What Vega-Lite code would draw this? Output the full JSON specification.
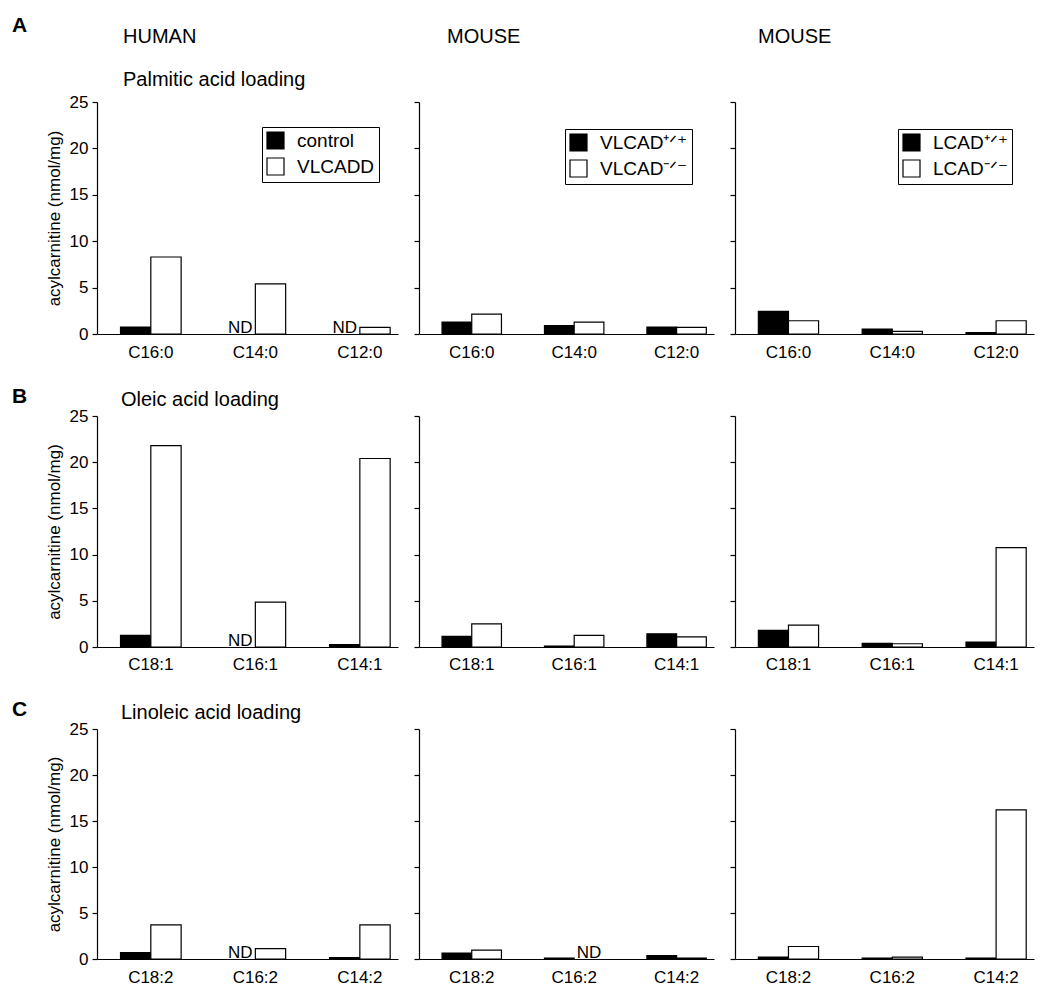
{
  "$schema": "https://vega.github.io/schema/vega-lite/v6.json",
  "padding": {"left": 12, "top": 15, "right": 5, "bottom": 5},
  "background": "white",
  "config": {
    "font": "Liberation Sans",
    "view": {"stroke": null},
    "axis": {"grid": false, "domainColor": "black", "tickColor": "black", "labelColor": "black", "titleColor": "black", "titleFontWeight": "normal", "domainWidth": 1.2, "tickWidth": 1.2},
    "title": {"font": "Liberation Sans", "fontWeight": "normal", "color": "black", "fontSize": 20, "anchor": "start", "subtitleFont": "Liberation Sans", "subtitleFontSize": 20, "subtitleColor": "black"},
    "legend": {"title": null, "orient": "none", "symbolType": "square", "symbolSize": 289, "symbolStrokeColor": "black", "symbolStrokeWidth": 1.2, "labelFontSize": 19, "labelColor": "black", "labelOffset": 12, "rowPadding": 3, "padding": 4, "strokeColor": "black", "fillColor": "white"},
    "text": {"font": "Liberation Sans", "color": "black"}
  },
  "datasets": {
    "d": [
      {"panel": "A0", "lipid": "C16:0", "geno": "control", "value": 0.75, "nd": false},
      {"panel": "A0", "lipid": "C16:0", "geno": "VLCADD", "value": 8.3, "nd": false},
      {"panel": "A0", "lipid": "C14:0", "geno": "control", "value": null, "nd": true},
      {"panel": "A0", "lipid": "C14:0", "geno": "VLCADD", "value": 5.4, "nd": false},
      {"panel": "A0", "lipid": "C12:0", "geno": "control", "value": null, "nd": true},
      {"panel": "A0", "lipid": "C12:0", "geno": "VLCADD", "value": 0.72, "nd": false},
      {"panel": "A1", "lipid": "C16:0", "geno": "VLCAD⁺ᐟ⁺", "value": 1.29, "nd": false},
      {"panel": "A1", "lipid": "C16:0", "geno": "VLCAD⁻ᐟ⁻", "value": 2.14, "nd": false},
      {"panel": "A1", "lipid": "C14:0", "geno": "VLCAD⁺ᐟ⁺", "value": 0.9, "nd": false},
      {"panel": "A1", "lipid": "C14:0", "geno": "VLCAD⁻ᐟ⁻", "value": 1.29, "nd": false},
      {"panel": "A1", "lipid": "C12:0", "geno": "VLCAD⁺ᐟ⁺", "value": 0.75, "nd": false},
      {"panel": "A1", "lipid": "C12:0", "geno": "VLCAD⁻ᐟ⁻", "value": 0.72, "nd": false},
      {"panel": "A2", "lipid": "C16:0", "geno": "LCAD⁺ᐟ⁺", "value": 2.43, "nd": false},
      {"panel": "A2", "lipid": "C16:0", "geno": "LCAD⁻ᐟ⁻", "value": 1.43, "nd": false},
      {"panel": "A2", "lipid": "C14:0", "geno": "LCAD⁺ᐟ⁺", "value": 0.54, "nd": false},
      {"panel": "A2", "lipid": "C14:0", "geno": "LCAD⁻ᐟ⁻", "value": 0.29, "nd": false},
      {"panel": "A2", "lipid": "C12:0", "geno": "LCAD⁺ᐟ⁺", "value": 0.14, "nd": false},
      {"panel": "A2", "lipid": "C12:0", "geno": "LCAD⁻ᐟ⁻", "value": 1.43, "nd": false},
      {"panel": "B0", "lipid": "C18:1", "geno": "control", "value": 1.26, "nd": false},
      {"panel": "B0", "lipid": "C18:1", "geno": "VLCADD", "value": 21.8, "nd": false},
      {"panel": "B0", "lipid": "C16:1", "geno": "control", "value": null, "nd": true},
      {"panel": "B0", "lipid": "C16:1", "geno": "VLCADD", "value": 4.86, "nd": false},
      {"panel": "B0", "lipid": "C14:1", "geno": "control", "value": 0.25, "nd": false},
      {"panel": "B0", "lipid": "C14:1", "geno": "VLCADD", "value": 20.4, "nd": false},
      {"panel": "B1", "lipid": "C18:1", "geno": "VLCAD⁺ᐟ⁺", "value": 1.15, "nd": false},
      {"panel": "B1", "lipid": "C18:1", "geno": "VLCAD⁻ᐟ⁻", "value": 2.5, "nd": false},
      {"panel": "B1", "lipid": "C16:1", "geno": "VLCAD⁺ᐟ⁺", "value": 0.1, "nd": false},
      {"panel": "B1", "lipid": "C16:1", "geno": "VLCAD⁻ᐟ⁻", "value": 1.25, "nd": false},
      {"panel": "B1", "lipid": "C14:1", "geno": "VLCAD⁺ᐟ⁺", "value": 1.43, "nd": false},
      {"panel": "B1", "lipid": "C14:1", "geno": "VLCAD⁻ᐟ⁻", "value": 1.1, "nd": false},
      {"panel": "B2", "lipid": "C18:1", "geno": "LCAD⁺ᐟ⁺", "value": 1.8, "nd": false},
      {"panel": "B2", "lipid": "C18:1", "geno": "LCAD⁻ᐟ⁻", "value": 2.37, "nd": false},
      {"panel": "B2", "lipid": "C16:1", "geno": "LCAD⁺ᐟ⁺", "value": 0.4, "nd": false},
      {"panel": "B2", "lipid": "C16:1", "geno": "LCAD⁻ᐟ⁻", "value": 0.35, "nd": false},
      {"panel": "B2", "lipid": "C14:1", "geno": "LCAD⁺ᐟ⁺", "value": 0.54, "nd": false},
      {"panel": "B2", "lipid": "C14:1", "geno": "LCAD⁻ᐟ⁻", "value": 10.75, "nd": false},
      {"panel": "C0", "lipid": "C18:2", "geno": "control", "value": 0.69, "nd": false},
      {"panel": "C0", "lipid": "C18:2", "geno": "VLCADD", "value": 3.7, "nd": false},
      {"panel": "C0", "lipid": "C16:2", "geno": "control", "value": null, "nd": true},
      {"panel": "C0", "lipid": "C16:2", "geno": "VLCADD", "value": 1.13, "nd": false},
      {"panel": "C0", "lipid": "C14:2", "geno": "control", "value": 0.15, "nd": false},
      {"panel": "C0", "lipid": "C14:2", "geno": "VLCADD", "value": 3.7, "nd": false},
      {"panel": "C1", "lipid": "C18:2", "geno": "VLCAD⁺ᐟ⁺", "value": 0.65, "nd": false},
      {"panel": "C1", "lipid": "C18:2", "geno": "VLCAD⁻ᐟ⁻", "value": 0.97, "nd": false},
      {"panel": "C1", "lipid": "C16:2", "geno": "VLCAD⁺ᐟ⁺", "value": 0.1, "nd": false},
      {"panel": "C1", "lipid": "C16:2", "geno": "VLCAD⁻ᐟ⁻", "value": null, "nd": true},
      {"panel": "C1", "lipid": "C14:2", "geno": "VLCAD⁺ᐟ⁺", "value": 0.36, "nd": false},
      {"panel": "C1", "lipid": "C14:2", "geno": "VLCAD⁻ᐟ⁻", "value": 0.1, "nd": false},
      {"panel": "C2", "lipid": "C18:2", "geno": "LCAD⁺ᐟ⁺", "value": 0.22, "nd": false},
      {"panel": "C2", "lipid": "C18:2", "geno": "LCAD⁻ᐟ⁻", "value": 1.36, "nd": false},
      {"panel": "C2", "lipid": "C16:2", "geno": "LCAD⁺ᐟ⁺", "value": 0.1, "nd": false},
      {"panel": "C2", "lipid": "C16:2", "geno": "LCAD⁻ᐟ⁻", "value": 0.2, "nd": false},
      {"panel": "C2", "lipid": "C14:2", "geno": "LCAD⁺ᐟ⁺", "value": 0.1, "nd": false},
      {"panel": "C2", "lipid": "C14:2", "geno": "LCAD⁻ᐟ⁻", "value": 16.2, "nd": false}
    ]
  },
  "spacing": 26,
  "resolve": {"scale": {"fill": "independent", "x": "independent", "y": "independent", "xOffset": "independent"}, "legend": {"fill": "independent"}},
  "vconcat": [
    {
      "title": {"text": "A", "anchor": "start", "frame": "bounds", "fontSize": 21, "fontWeight": "bold", "dx": -33, "dy": 9, "offset": 0},
      "spacing": 21,
      "bounds": "flush",
      "resolve": {"scale": {"fill": "independent", "x": "independent", "y": "independent", "xOffset": "independent"}, "legend": {"fill": "independent"}},
      "hconcat": [
        {
          "width": 301, "height": 232,
          "title": {"text": "HUMAN", "subtitle": "Palmitic acid loading", "frame": "group", "dx": 26, "offset": 3, "subtitlePadding": 23},
          "data": {"name": "d"},
          "transform": [{"filter": "datum.panel === 'A0'"}],
          "encoding": {
            "x": {"field": "lipid", "type": "nominal", "sort": null, "scale": {"paddingInner": 0.42, "paddingOuter": 0.15, "align": 0.75}, "axis": {"title": null, "ticks": false, "labelAngle": 0, "labelFontSize": 17, "labelPadding": 10}},
            "xOffset": {"field": "geno", "type": "nominal", "scale": {"domain": ["control", "VLCADD"]}}
          },
          "layer": [
            {"mark": {"type": "bar", "stroke": "black", "strokeWidth": 1.2},
             "encoding": {
               "y": {"field": "value", "type": "quantitative", "stack": null, "scale": {"domain": [0, 25], "nice": false, "padding": 0}, "axis": {"values": [0, 5, 10, 15, 20, 25], "tickSize": 5, "labelFontSize": 17, "labelPadding": 4, "title": "acylcarnitine (nmol/mg)", "titleFontSize": 17, "titlePadding": 6}},
               "fill": {"field": "geno", "type": "nominal", "scale": {"domain": ["control", "VLCADD"], "range": ["black", "white"]}, "legend": {"legendX": 165, "legendY": 25}}
             }},
            {"transform": [{"filter": "datum.nd"}], "mark": {"type": "text", "text": "ND", "fontSize": 17, "baseline": "alphabetic", "dy": -1},
             "encoding": {"y": {"datum": 0, "type": "quantitative"}}}
          ]
        },
        {
          "width": 295, "height": 232,
          "title": {"text": "MOUSE", "subtitle": " ", "frame": "group", "dx": 28, "offset": 11, "subtitlePadding": 23},
          "data": {"name": "d"},
          "transform": [{"filter": "datum.panel === 'A1'"}],
          "encoding": {
            "x": {"field": "lipid", "type": "nominal", "sort": null, "scale": {"paddingInner": 0.42, "paddingOuter": 0.15, "align": 0.75}, "axis": {"title": null, "ticks": false, "labelAngle": 0, "labelFontSize": 17, "labelPadding": 10}},
            "xOffset": {"field": "geno", "type": "nominal", "scale": {"domain": ["VLCAD⁺ᐟ⁺", "VLCAD⁻ᐟ⁻"]}}
          },
          "layer": [
            {"mark": {"type": "bar", "stroke": "black", "strokeWidth": 1.2},
             "encoding": {
               "y": {"field": "value", "type": "quantitative", "stack": null, "scale": {"domain": [0, 25], "nice": false, "padding": 0}, "axis": {"values": [0, 5, 10, 15, 20, 25], "tickSize": 5, "labels": false, "title": null}},
               "fill": {"field": "geno", "type": "nominal", "scale": {"domain": ["VLCAD⁺ᐟ⁺", "VLCAD⁻ᐟ⁻"], "range": ["black", "white"]}, "legend": {"legendX": 146, "legendY": 27}}
             }}
          ]
        },
        {
          "width": 299, "height": 232,
          "title": {"text": "MOUSE", "subtitle": " ", "frame": "group", "dx": 23, "offset": 11, "subtitlePadding": 23},
          "data": {"name": "d"},
          "transform": [{"filter": "datum.panel === 'A2'"}],
          "encoding": {
            "x": {"field": "lipid", "type": "nominal", "sort": null, "scale": {"paddingInner": 0.42, "paddingOuter": 0.15, "align": 0.75}, "axis": {"title": null, "ticks": false, "labelAngle": 0, "labelFontSize": 17, "labelPadding": 10}},
            "xOffset": {"field": "geno", "type": "nominal", "scale": {"domain": ["LCAD⁺ᐟ⁺", "LCAD⁻ᐟ⁻"]}}
          },
          "layer": [
            {"mark": {"type": "bar", "stroke": "black", "strokeWidth": 1.2},
             "encoding": {
               "y": {"field": "value", "type": "quantitative", "stack": null, "scale": {"domain": [0, 25], "nice": false, "padding": 0}, "axis": {"values": [0, 5, 10, 15, 20, 25], "tickSize": 5, "labels": false, "title": null}},
               "fill": {"field": "geno", "type": "nominal", "scale": {"domain": ["LCAD⁺ᐟ⁺", "LCAD⁻ᐟ⁻"], "range": ["black", "white"]}, "legend": {"legendX": 163, "legendY": 27}}
             }}
          ]
        }
      ]
    },
    {
      "title": {"text": "B", "anchor": "start", "frame": "bounds", "fontSize": 21, "fontWeight": "bold", "dx": -33, "dy": 17, "offset": 0},
      "spacing": 21,
      "bounds": "flush",
      "resolve": {"scale": {"fill": "independent", "x": "independent", "y": "independent", "xOffset": "independent"}, "legend": {"fill": "independent"}},
      "hconcat": [
        {
          "width": 301, "height": 231,
          "title": {"text": "Oleic acid loading", "frame": "group", "dx": 24, "offset": -3},
          "data": {"name": "d"},
          "transform": [{"filter": "datum.panel === 'B0'"}],
          "encoding": {
            "x": {"field": "lipid", "type": "nominal", "sort": null, "scale": {"paddingInner": 0.42, "paddingOuter": 0.15, "align": 0.75}, "axis": {"title": null, "ticks": false, "labelAngle": 0, "labelFontSize": 17, "labelPadding": 9}},
            "xOffset": {"field": "geno", "type": "nominal", "scale": {"domain": ["control", "VLCADD"]}}
          },
          "layer": [
            {"mark": {"type": "bar", "stroke": "black", "strokeWidth": 1.2},
             "encoding": {
               "y": {"field": "value", "type": "quantitative", "stack": null, "scale": {"domain": [0, 25], "nice": false, "padding": 0}, "axis": {"values": [0, 5, 10, 15, 20, 25], "tickSize": 5, "labelFontSize": 17, "labelPadding": 4, "title": "acylcarnitine (nmol/mg)", "titleFontSize": 17, "titlePadding": 6}},
               "fill": {"field": "geno", "type": "nominal", "scale": {"domain": ["control", "VLCADD"], "range": ["black", "white"]}, "legend": null}
             }},
            {"transform": [{"filter": "datum.nd"}], "mark": {"type": "text", "text": "ND", "fontSize": 17, "baseline": "alphabetic", "dy": -1},
             "encoding": {"y": {"datum": 0, "type": "quantitative"}}}
          ]
        },
        {
          "width": 295, "height": 231,
          "data": {"name": "d"},
          "transform": [{"filter": "datum.panel === 'B1'"}],
          "encoding": {
            "x": {"field": "lipid", "type": "nominal", "sort": null, "scale": {"paddingInner": 0.42, "paddingOuter": 0.15, "align": 0.75}, "axis": {"title": null, "ticks": false, "labelAngle": 0, "labelFontSize": 17, "labelPadding": 9}},
            "xOffset": {"field": "geno", "type": "nominal", "scale": {"domain": ["VLCAD⁺ᐟ⁺", "VLCAD⁻ᐟ⁻"]}}
          },
          "layer": [
            {"mark": {"type": "bar", "stroke": "black", "strokeWidth": 1.2},
             "encoding": {
               "y": {"field": "value", "type": "quantitative", "stack": null, "scale": {"domain": [0, 25], "nice": false, "padding": 0}, "axis": {"values": [0, 5, 10, 15, 20, 25], "tickSize": 5, "labels": false, "title": null}},
               "fill": {"field": "geno", "type": "nominal", "scale": {"domain": ["VLCAD⁺ᐟ⁺", "VLCAD⁻ᐟ⁻"], "range": ["black", "white"]}, "legend": null}
             }}
          ]
        },
        {
          "width": 299, "height": 231,
          "data": {"name": "d"},
          "transform": [{"filter": "datum.panel === 'B2'"}],
          "encoding": {
            "x": {"field": "lipid", "type": "nominal", "sort": null, "scale": {"paddingInner": 0.42, "paddingOuter": 0.15, "align": 0.75}, "axis": {"title": null, "ticks": false, "labelAngle": 0, "labelFontSize": 17, "labelPadding": 9}},
            "xOffset": {"field": "geno", "type": "nominal", "scale": {"domain": ["LCAD⁺ᐟ⁺", "LCAD⁻ᐟ⁻"]}}
          },
          "layer": [
            {"mark": {"type": "bar", "stroke": "black", "strokeWidth": 1.2},
             "encoding": {
               "y": {"field": "value", "type": "quantitative", "stack": null, "scale": {"domain": [0, 25], "nice": false, "padding": 0}, "axis": {"values": [0, 5, 10, 15, 20, 25], "tickSize": 5, "labels": false, "title": null}},
               "fill": {"field": "geno", "type": "nominal", "scale": {"domain": ["LCAD⁺ᐟ⁺", "LCAD⁻ᐟ⁻"], "range": ["black", "white"]}, "legend": null}
             }}
          ]
        }
      ]
    },
    {
      "title": {"text": "C", "anchor": "start", "frame": "bounds", "fontSize": 21, "fontWeight": "bold", "dx": -33, "dy": 17, "offset": 0},
      "spacing": 21,
      "bounds": "flush",
      "resolve": {"scale": {"fill": "independent", "x": "independent", "y": "independent", "xOffset": "independent"}, "legend": {"fill": "independent"}},
      "hconcat": [
        {
          "width": 301, "height": 230,
          "title": {"text": "Linoleic acid loading", "frame": "group", "dx": 24, "offset": -2.5},
          "data": {"name": "d"},
          "transform": [{"filter": "datum.panel === 'C0'"}],
          "encoding": {
            "x": {"field": "lipid", "type": "nominal", "sort": null, "scale": {"paddingInner": 0.42, "paddingOuter": 0.15, "align": 0.75}, "axis": {"title": null, "ticks": false, "labelAngle": 0, "labelFontSize": 17, "labelPadding": 10}},
            "xOffset": {"field": "geno", "type": "nominal", "scale": {"domain": ["control", "VLCADD"]}}
          },
          "layer": [
            {"mark": {"type": "bar", "stroke": "black", "strokeWidth": 1.2},
             "encoding": {
               "y": {"field": "value", "type": "quantitative", "stack": null, "scale": {"domain": [0, 25], "nice": false, "padding": 0}, "axis": {"values": [0, 5, 10, 15, 20, 25], "tickSize": 5, "labelFontSize": 17, "labelPadding": 4, "title": "acylcarnitine (nmol/mg)", "titleFontSize": 17, "titlePadding": 6}},
               "fill": {"field": "geno", "type": "nominal", "scale": {"domain": ["control", "VLCADD"], "range": ["black", "white"]}, "legend": null}
             }},
            {"transform": [{"filter": "datum.nd"}], "mark": {"type": "text", "text": "ND", "fontSize": 17, "baseline": "alphabetic", "dy": -1},
             "encoding": {"y": {"datum": 0, "type": "quantitative"}}}
          ]
        },
        {
          "width": 295, "height": 230,
          "data": {"name": "d"},
          "transform": [{"filter": "datum.panel === 'C1'"}],
          "encoding": {
            "x": {"field": "lipid", "type": "nominal", "sort": null, "scale": {"paddingInner": 0.42, "paddingOuter": 0.15, "align": 0.75}, "axis": {"title": null, "ticks": false, "labelAngle": 0, "labelFontSize": 17, "labelPadding": 10}},
            "xOffset": {"field": "geno", "type": "nominal", "scale": {"domain": ["VLCAD⁺ᐟ⁺", "VLCAD⁻ᐟ⁻"]}}
          },
          "layer": [
            {"mark": {"type": "bar", "stroke": "black", "strokeWidth": 1.2},
             "encoding": {
               "y": {"field": "value", "type": "quantitative", "stack": null, "scale": {"domain": [0, 25], "nice": false, "padding": 0}, "axis": {"values": [0, 5, 10, 15, 20, 25], "tickSize": 5, "labels": false, "title": null}},
               "fill": {"field": "geno", "type": "nominal", "scale": {"domain": ["VLCAD⁺ᐟ⁺", "VLCAD⁻ᐟ⁻"], "range": ["black", "white"]}, "legend": null}
             }},
            {"transform": [{"filter": "datum.nd"}], "mark": {"type": "text", "text": "ND", "fontSize": 17, "baseline": "alphabetic", "dy": -1},
             "encoding": {"y": {"datum": 0, "type": "quantitative"}}}
          ]
        },
        {
          "width": 299, "height": 230,
          "data": {"name": "d"},
          "transform": [{"filter": "datum.panel === 'C2'"}],
          "encoding": {
            "x": {"field": "lipid", "type": "nominal", "sort": null, "scale": {"paddingInner": 0.42, "paddingOuter": 0.15, "align": 0.75}, "axis": {"title": null, "ticks": false, "labelAngle": 0, "labelFontSize": 17, "labelPadding": 10}},
            "xOffset": {"field": "geno", "type": "nominal", "scale": {"domain": ["LCAD⁺ᐟ⁺", "LCAD⁻ᐟ⁻"]}}
          },
          "layer": [
            {"mark": {"type": "bar", "stroke": "black", "strokeWidth": 1.2},
             "encoding": {
               "y": {"field": "value", "type": "quantitative", "stack": null, "scale": {"domain": [0, 25], "nice": false, "padding": 0}, "axis": {"values": [0, 5, 10, 15, 20, 25], "tickSize": 5, "labels": false, "title": null}},
               "fill": {"field": "geno", "type": "nominal", "scale": {"domain": ["LCAD⁺ᐟ⁺", "LCAD⁻ᐟ⁻"], "range": ["black", "white"]}, "legend": null}
             }}
          ]
        }
      ]
    }
  ]
}
